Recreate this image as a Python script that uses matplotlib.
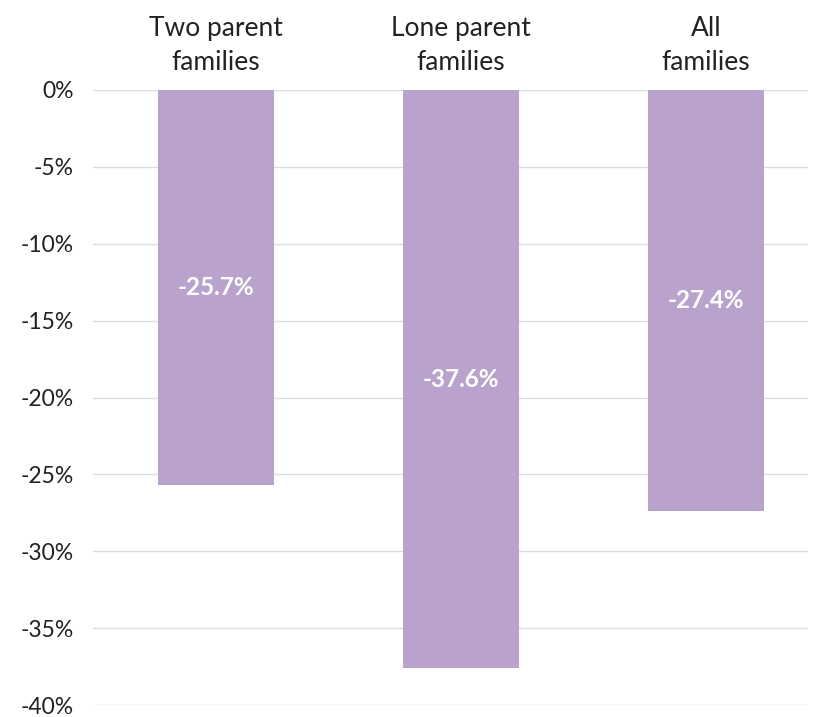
import matplotlib.pyplot as plt

categories = ['Two parent\nfamilies', 'Lone parent\nfamilies', 'All\nfamilies']
values = [-25.7, -37.6, -27.4]
yticks = [0, -5, -10, -15, -20, -25, -30, -35, -40]

plt.rcParams['font.family'] = ['Lato', 'DejaVu Sans']

fig = plt.figure(figsize=(8.2, 7.17), dpi=100)
ax = fig.add_axes([93 / 820, 1 - 705 / 717, 715 / 820, 615 / 717])

x = range(len(categories))
bars = ax.bar(x, values, width=0.474, color='#B9A3CC', zorder=2)

for xi, v in zip(x, values):
    ax.text(xi, v / 2, f'{v:.1f}%', ha='center', va='center',
            color='white', fontsize=17.5, fontweight='bold', zorder=3)

ax.set_ylim(-40, 0)
ax.set_xlim(-0.502, 2.416)
ax.set_yticks(yticks)
ax.set_yticklabels([f'{t}%' for t in yticks])
ax.tick_params(axis='y', length=0, pad=14, labelsize=16.5, labelcolor='#222222')
ax.xaxis.tick_top()
ax.set_xticks(list(x))
ax.set_xticklabels(categories, linespacing=1.45)
ax.tick_params(axis='x', length=0, pad=11, labelsize=19, labelcolor='#222222')

ax.grid(axis='y', color='#dddddd', linewidth=1, zorder=0)
for s in ax.spines.values():
    s.set_visible(False)

fig.savefig('out.png', dpi=100)
